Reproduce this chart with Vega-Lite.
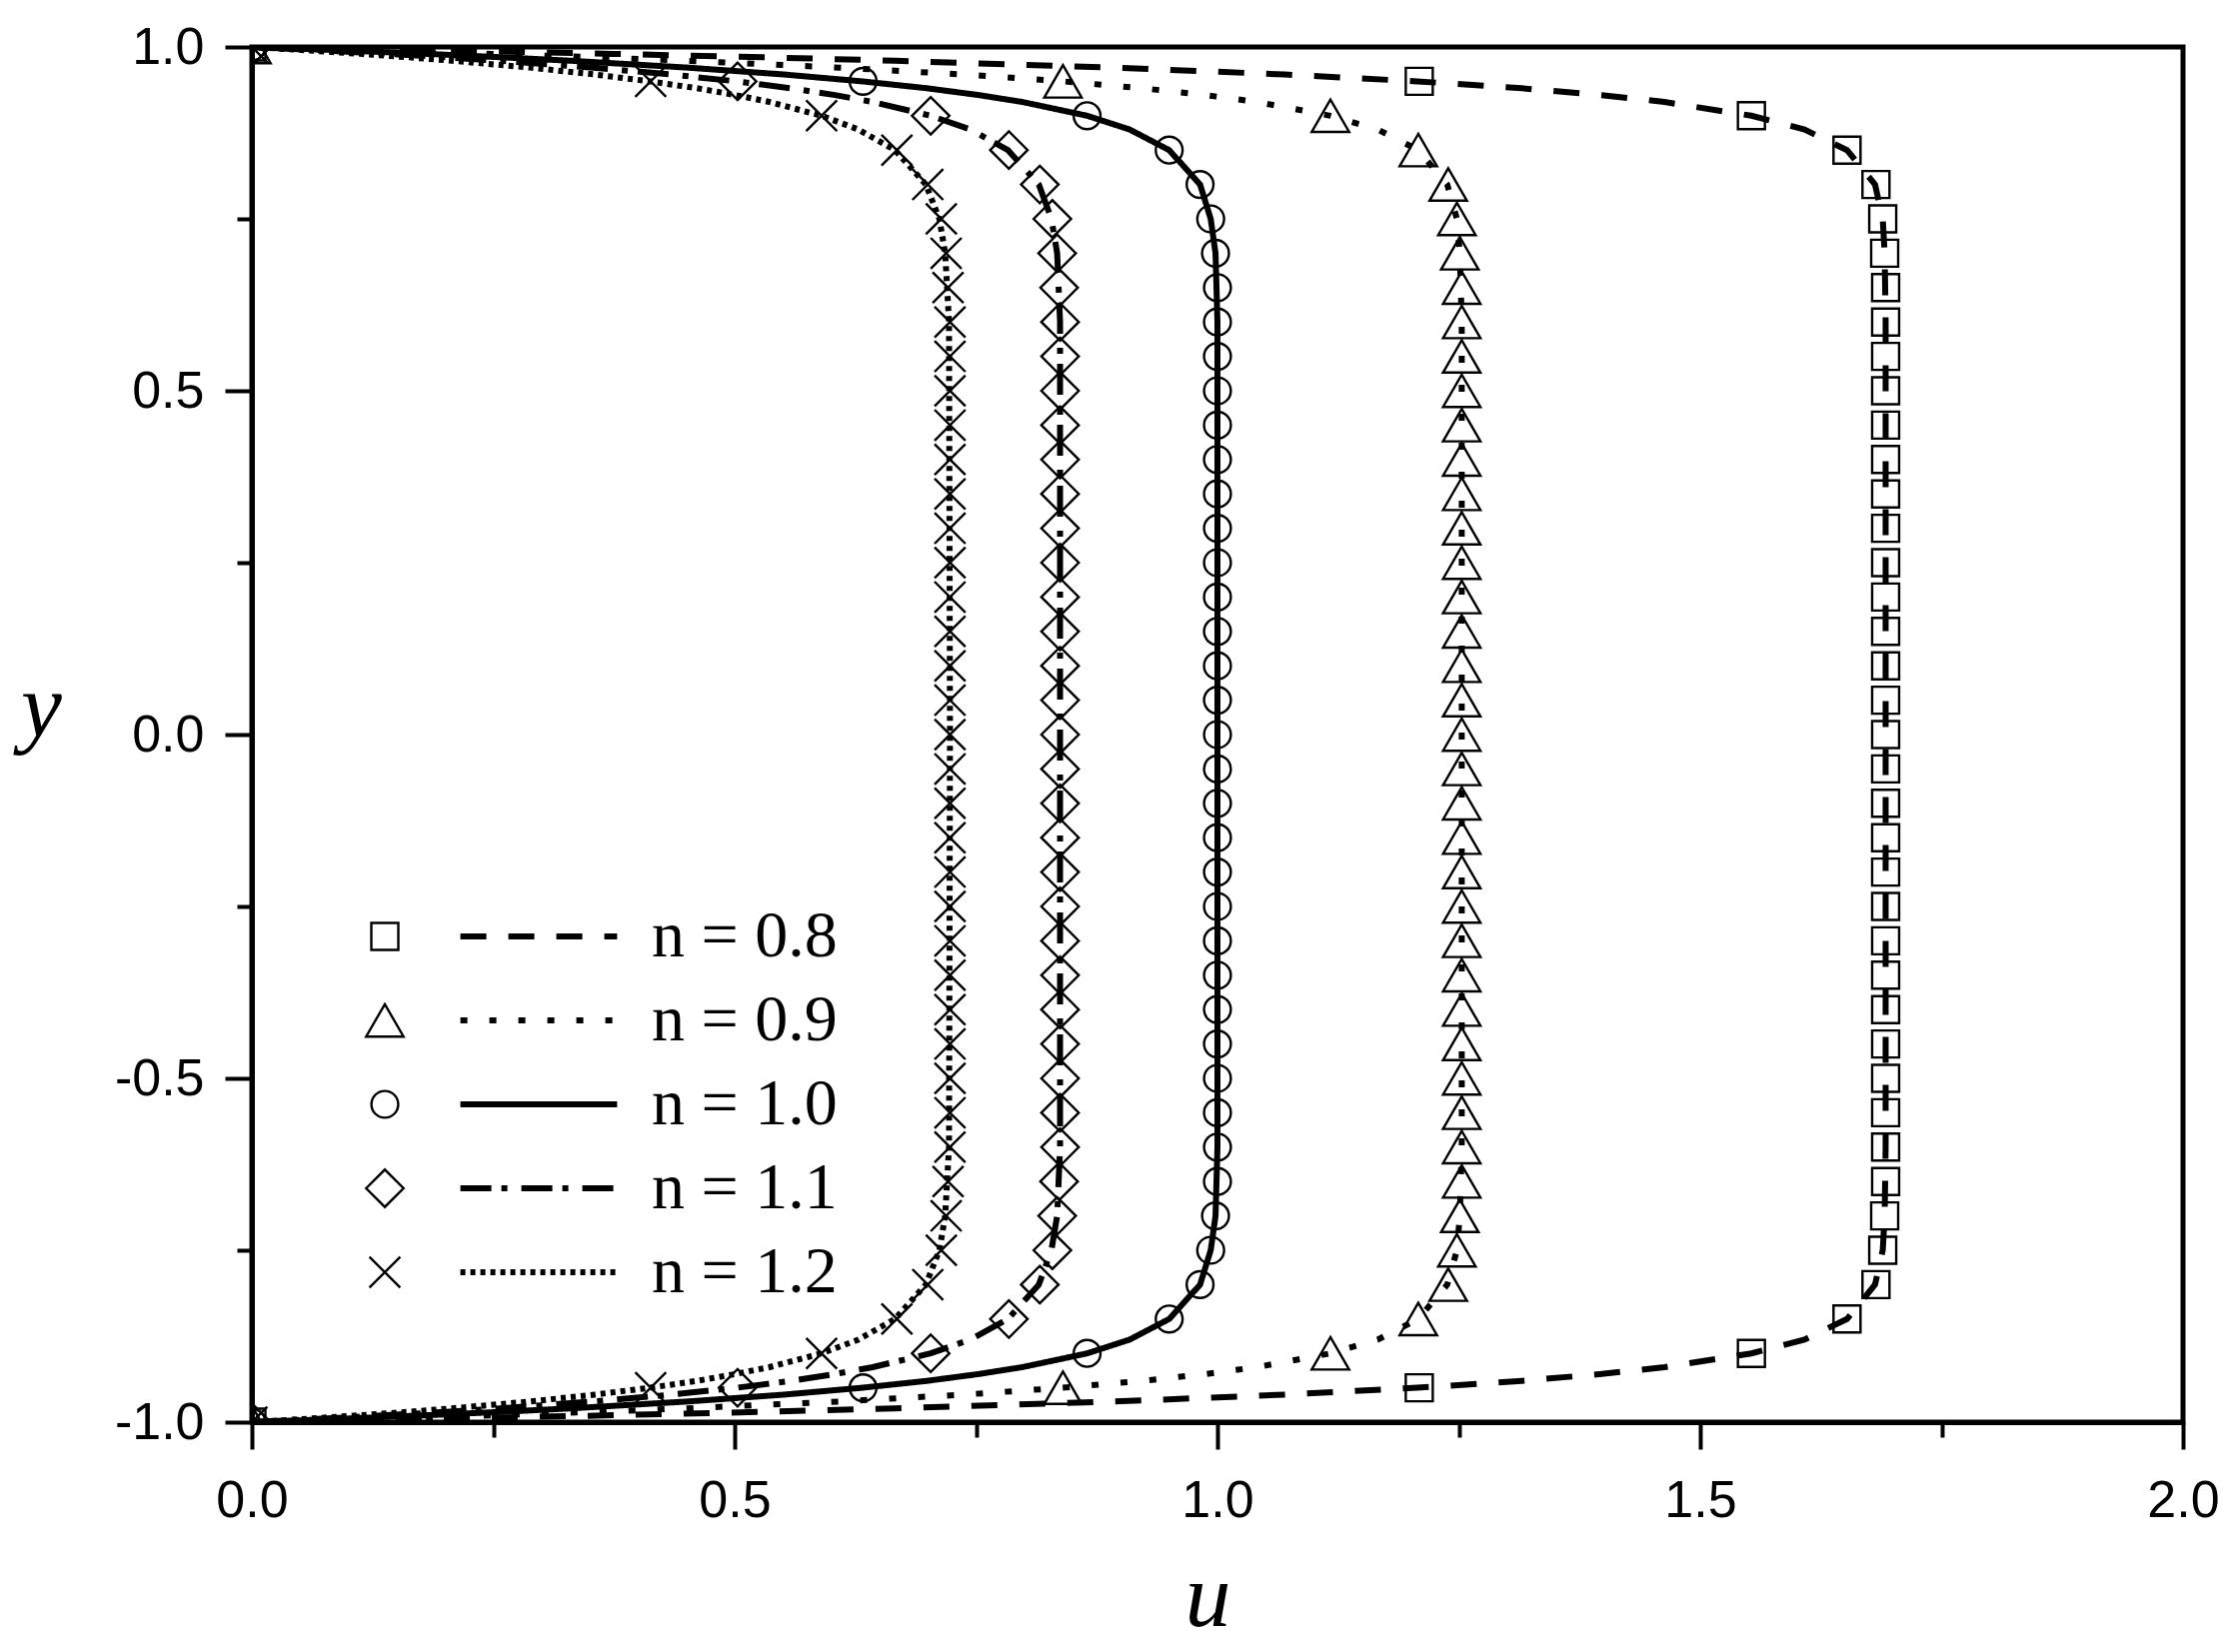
{
  "$schema": "https://vega.github.io/schema/vega-lite/v6.json",
  "width": 1932,
  "height": 1376,
  "autosize": "none",
  "padding": {"left": 252, "top": 47, "right": 57, "bottom": 230},
  "background": "white",
  "config": {
    "view": {"stroke": "black", "strokeWidth": 5},
    "axis": {
      "grid": false,
      "domainColor": "black",
      "domainWidth": 5,
      "tickColor": "black",
      "tickWidth": 4,
      "labelFont": "Liberation Sans",
      "labelFontSize": 52,
      "labelColor": "black",
      "labelFlush": false,
      "labelOverlap": false,
      "labelBound": false,
      "titleFont": "Liberation Serif",
      "titleFontStyle": "italic",
      "titleFontWeight": "normal",
      "titleFontSize": 92,
      "titleColor": "black"
    }
  },
  "datasets": {
    "curves": [
      {"n":"0.8","y":1,"u":0},{"n":"0.8","y":0.995,"u":0.199},{"n":"0.8","y":0.99,"u":0.374},{"n":"0.8","y":0.985,"u":0.529},{"n":"0.8","y":0.98,"u":0.666},{"n":"0.8","y":0.97,"u":0.893},{"n":"0.8","y":0.96,"u":1.070},{"n":"0.8","y":0.95,"u":1.207},{"n":"0.8","y":0.94,"u":1.315},{"n":"0.8","y":0.93,"u":1.398},{"n":"0.8","y":0.92,"u":1.463},{"n":"0.8","y":0.9,"u":1.553},{"n":"0.8","y":0.88,"u":1.608},{"n":"0.8","y":0.85,"u":1.652},{"n":"0.8","y":0.8,"u":1.681},{"n":"0.8","y":0.75,"u":1.689},{"n":"0.8","y":0.7,"u":1.691},{"n":"0.8","y":0.6,"u":1.692},{"n":"0.8","y":0,"u":1.692},{"n":"0.8","y":-0.6,"u":1.692},{"n":"0.8","y":-0.7,"u":1.691},{"n":"0.8","y":-0.75,"u":1.689},{"n":"0.8","y":-0.8,"u":1.681},{"n":"0.8","y":-0.85,"u":1.652},{"n":"0.8","y":-0.88,"u":1.608},{"n":"0.8","y":-0.9,"u":1.553},{"n":"0.8","y":-0.92,"u":1.463},{"n":"0.8","y":-0.93,"u":1.398},{"n":"0.8","y":-0.94,"u":1.315},{"n":"0.8","y":-0.95,"u":1.207},{"n":"0.8","y":-0.96,"u":1.070},{"n":"0.8","y":-0.97,"u":0.893},{"n":"0.8","y":-0.98,"u":0.666},{"n":"0.8","y":-0.985,"u":0.529},{"n":"0.8","y":-0.99,"u":0.374},{"n":"0.8","y":-0.995,"u":0.199},{"n":"0.8","y":-1,"u":0},
      {"n":"0.9","y":1,"u":0},{"n":"0.9","y":0.995,"u":0.132},{"n":"0.9","y":0.99,"u":0.249},{"n":"0.9","y":0.985,"u":0.355},{"n":"0.9","y":0.98,"u":0.449},{"n":"0.9","y":0.97,"u":0.609},{"n":"0.9","y":0.96,"u":0.737},{"n":"0.9","y":0.95,"u":0.840},{"n":"0.9","y":0.94,"u":0.922},{"n":"0.9","y":0.93,"u":0.988},{"n":"0.9","y":0.92,"u":1.041},{"n":"0.9","y":0.9,"u":1.117},{"n":"0.9","y":0.88,"u":1.166},{"n":"0.9","y":0.85,"u":1.208},{"n":"0.9","y":0.8,"u":1.238},{"n":"0.9","y":0.75,"u":1.248},{"n":"0.9","y":0.7,"u":1.251},{"n":"0.9","y":0.6,"u":1.253},{"n":"0.9","y":0,"u":1.253},{"n":"0.9","y":-0.6,"u":1.253},{"n":"0.9","y":-0.7,"u":1.251},{"n":"0.9","y":-0.75,"u":1.248},{"n":"0.9","y":-0.8,"u":1.238},{"n":"0.9","y":-0.85,"u":1.208},{"n":"0.9","y":-0.88,"u":1.166},{"n":"0.9","y":-0.9,"u":1.117},{"n":"0.9","y":-0.92,"u":1.041},{"n":"0.9","y":-0.93,"u":0.988},{"n":"0.9","y":-0.94,"u":0.922},{"n":"0.9","y":-0.95,"u":0.840},{"n":"0.9","y":-0.96,"u":0.737},{"n":"0.9","y":-0.97,"u":0.609},{"n":"0.9","y":-0.98,"u":0.449},{"n":"0.9","y":-0.985,"u":0.355},{"n":"0.9","y":-0.99,"u":0.249},{"n":"0.9","y":-0.995,"u":0.132},{"n":"0.9","y":-1,"u":0},
      {"n":"1.0","y":1,"u":0},{"n":"1.0","y":0.995,"u":0.095},{"n":"1.0","y":0.99,"u":0.181},{"n":"1.0","y":0.985,"u":0.259},{"n":"1.0","y":0.98,"u":0.330},{"n":"1.0","y":0.97,"u":0.451},{"n":"1.0","y":0.96,"u":0.551},{"n":"1.0","y":0.95,"u":0.632},{"n":"1.0","y":0.94,"u":0.699},{"n":"1.0","y":0.93,"u":0.753},{"n":"1.0","y":0.92,"u":0.798},{"n":"1.0","y":0.9,"u":0.865},{"n":"1.0","y":0.88,"u":0.909},{"n":"1.0","y":0.85,"u":0.950},{"n":"1.0","y":0.8,"u":0.982},{"n":"1.0","y":0.75,"u":0.993},{"n":"1.0","y":0.7,"u":0.998},{"n":"1.0","y":0.6,"u":1.0},{"n":"1.0","y":0,"u":1.0},{"n":"1.0","y":-0.6,"u":1.0},{"n":"1.0","y":-0.7,"u":0.998},{"n":"1.0","y":-0.75,"u":0.993},{"n":"1.0","y":-0.8,"u":0.982},{"n":"1.0","y":-0.85,"u":0.950},{"n":"1.0","y":-0.88,"u":0.909},{"n":"1.0","y":-0.9,"u":0.865},{"n":"1.0","y":-0.92,"u":0.798},{"n":"1.0","y":-0.93,"u":0.753},{"n":"1.0","y":-0.94,"u":0.699},{"n":"1.0","y":-0.95,"u":0.632},{"n":"1.0","y":-0.96,"u":0.551},{"n":"1.0","y":-0.97,"u":0.451},{"n":"1.0","y":-0.98,"u":0.330},{"n":"1.0","y":-0.985,"u":0.259},{"n":"1.0","y":-0.99,"u":0.181},{"n":"1.0","y":-0.995,"u":0.095},{"n":"1.0","y":-1,"u":0},
      {"n":"1.1","y":1,"u":0},{"n":"1.1","y":0.995,"u":0.073},{"n":"1.1","y":0.99,"u":0.140},{"n":"1.1","y":0.985,"u":0.201},{"n":"1.1","y":0.98,"u":0.257},{"n":"1.1","y":0.97,"u":0.354},{"n":"1.1","y":0.96,"u":0.434},{"n":"1.1","y":0.95,"u":0.502},{"n":"1.1","y":0.94,"u":0.558},{"n":"1.1","y":0.93,"u":0.604},{"n":"1.1","y":0.92,"u":0.643},{"n":"1.1","y":0.9,"u":0.703},{"n":"1.1","y":0.88,"u":0.744},{"n":"1.1","y":0.85,"u":0.783},{"n":"1.1","y":0.8,"u":0.815},{"n":"1.1","y":0.75,"u":0.828},{"n":"1.1","y":0.7,"u":0.834},{"n":"1.1","y":0.6,"u":0.837},{"n":"1.1","y":0,"u":0.837},{"n":"1.1","y":-0.6,"u":0.837},{"n":"1.1","y":-0.7,"u":0.834},{"n":"1.1","y":-0.75,"u":0.828},{"n":"1.1","y":-0.8,"u":0.815},{"n":"1.1","y":-0.85,"u":0.783},{"n":"1.1","y":-0.88,"u":0.744},{"n":"1.1","y":-0.9,"u":0.703},{"n":"1.1","y":-0.92,"u":0.643},{"n":"1.1","y":-0.93,"u":0.604},{"n":"1.1","y":-0.94,"u":0.558},{"n":"1.1","y":-0.95,"u":0.502},{"n":"1.1","y":-0.96,"u":0.434},{"n":"1.1","y":-0.97,"u":0.354},{"n":"1.1","y":-0.98,"u":0.257},{"n":"1.1","y":-0.985,"u":0.201},{"n":"1.1","y":-0.99,"u":0.140},{"n":"1.1","y":-0.995,"u":0.073},{"n":"1.1","y":-1,"u":0},
      {"n":"1.2","y":1,"u":0},{"n":"1.2","y":0.995,"u":0.059},{"n":"1.2","y":0.99,"u":0.112},{"n":"1.2","y":0.985,"u":0.162},{"n":"1.2","y":0.98,"u":0.207},{"n":"1.2","y":0.97,"u":0.288},{"n":"1.2","y":0.96,"u":0.355},{"n":"1.2","y":0.95,"u":0.412},{"n":"1.2","y":0.94,"u":0.461},{"n":"1.2","y":0.93,"u":0.501},{"n":"1.2","y":0.92,"u":0.536},{"n":"1.2","y":0.9,"u":0.590},{"n":"1.2","y":0.88,"u":0.628},{"n":"1.2","y":0.85,"u":0.666},{"n":"1.2","y":0.8,"u":0.698},{"n":"1.2","y":0.75,"u":0.712},{"n":"1.2","y":0.7,"u":0.718},{"n":"1.2","y":0.6,"u":0.722},{"n":"1.2","y":0,"u":0.723},{"n":"1.2","y":-0.6,"u":0.722},{"n":"1.2","y":-0.7,"u":0.718},{"n":"1.2","y":-0.75,"u":0.712},{"n":"1.2","y":-0.8,"u":0.698},{"n":"1.2","y":-0.85,"u":0.666},{"n":"1.2","y":-0.88,"u":0.628},{"n":"1.2","y":-0.9,"u":0.590},{"n":"1.2","y":-0.92,"u":0.536},{"n":"1.2","y":-0.93,"u":0.501},{"n":"1.2","y":-0.94,"u":0.461},{"n":"1.2","y":-0.95,"u":0.412},{"n":"1.2","y":-0.96,"u":0.355},{"n":"1.2","y":-0.97,"u":0.288},{"n":"1.2","y":-0.98,"u":0.207},{"n":"1.2","y":-0.985,"u":0.162},{"n":"1.2","y":-0.99,"u":0.112},{"n":"1.2","y":-0.995,"u":0.059},{"n":"1.2","y":-1,"u":0}
    ],
    "markers": [
      {"n":"0.8","y":1,"u":0},{"n":"0.8","y":0.95,"u":1.209},{"n":"0.8","y":0.9,"u":1.553},{"n":"0.8","y":0.85,"u":1.652},{"n":"0.8","y":0.8,"u":1.682},{"n":"0.8","y":0.75,"u":1.689},{"n":"0.8","y":0.7,"u":1.691},{"n":"0.8","y":0.65,"u":1.692},{"n":"0.8","y":0.6,"u":1.692},{"n":"0.8","y":0.55,"u":1.692},{"n":"0.8","y":0.5,"u":1.692},{"n":"0.8","y":0.45,"u":1.692},{"n":"0.8","y":0.4,"u":1.692},{"n":"0.8","y":0.35,"u":1.692},{"n":"0.8","y":0.3,"u":1.692},{"n":"0.8","y":0.25,"u":1.692},{"n":"0.8","y":0.2,"u":1.692},{"n":"0.8","y":0.15,"u":1.692},{"n":"0.8","y":0.1,"u":1.692},{"n":"0.8","y":0.05,"u":1.692},{"n":"0.8","y":0,"u":1.692},{"n":"0.8","y":-0.05,"u":1.692},{"n":"0.8","y":-0.1,"u":1.692},{"n":"0.8","y":-0.15,"u":1.692},{"n":"0.8","y":-0.2,"u":1.692},{"n":"0.8","y":-0.25,"u":1.692},{"n":"0.8","y":-0.3,"u":1.692},{"n":"0.8","y":-0.35,"u":1.692},{"n":"0.8","y":-0.4,"u":1.692},{"n":"0.8","y":-0.45,"u":1.692},{"n":"0.8","y":-0.5,"u":1.692},{"n":"0.8","y":-0.55,"u":1.692},{"n":"0.8","y":-0.6,"u":1.692},{"n":"0.8","y":-0.65,"u":1.692},{"n":"0.8","y":-0.7,"u":1.691},{"n":"0.8","y":-0.75,"u":1.689},{"n":"0.8","y":-0.8,"u":1.682},{"n":"0.8","y":-0.85,"u":1.652},{"n":"0.8","y":-0.9,"u":1.553},{"n":"0.8","y":-0.95,"u":1.209},{"n":"0.8","y":-1,"u":0},
      {"n":"0.9","y":1,"u":0},{"n":"0.9","y":0.95,"u":0.840},{"n":"0.9","y":0.9,"u":1.117},{"n":"0.9","y":0.85,"u":1.208},{"n":"0.9","y":0.8,"u":1.239},{"n":"0.9","y":0.75,"u":1.248},{"n":"0.9","y":0.7,"u":1.251},{"n":"0.9","y":0.65,"u":1.253},{"n":"0.9","y":0.6,"u":1.253},{"n":"0.9","y":0.55,"u":1.253},{"n":"0.9","y":0.5,"u":1.253},{"n":"0.9","y":0.45,"u":1.253},{"n":"0.9","y":0.4,"u":1.253},{"n":"0.9","y":0.35,"u":1.253},{"n":"0.9","y":0.3,"u":1.253},{"n":"0.9","y":0.25,"u":1.253},{"n":"0.9","y":0.2,"u":1.253},{"n":"0.9","y":0.15,"u":1.253},{"n":"0.9","y":0.1,"u":1.253},{"n":"0.9","y":0.05,"u":1.253},{"n":"0.9","y":0,"u":1.253},{"n":"0.9","y":-0.05,"u":1.253},{"n":"0.9","y":-0.1,"u":1.253},{"n":"0.9","y":-0.15,"u":1.253},{"n":"0.9","y":-0.2,"u":1.253},{"n":"0.9","y":-0.25,"u":1.253},{"n":"0.9","y":-0.3,"u":1.253},{"n":"0.9","y":-0.35,"u":1.253},{"n":"0.9","y":-0.4,"u":1.253},{"n":"0.9","y":-0.45,"u":1.253},{"n":"0.9","y":-0.5,"u":1.253},{"n":"0.9","y":-0.55,"u":1.253},{"n":"0.9","y":-0.6,"u":1.253},{"n":"0.9","y":-0.65,"u":1.253},{"n":"0.9","y":-0.7,"u":1.251},{"n":"0.9","y":-0.75,"u":1.248},{"n":"0.9","y":-0.8,"u":1.239},{"n":"0.9","y":-0.85,"u":1.208},{"n":"0.9","y":-0.9,"u":1.117},{"n":"0.9","y":-0.95,"u":0.840},{"n":"0.9","y":-1,"u":0},
      {"n":"1.0","y":1,"u":0},{"n":"1.0","y":0.95,"u":0.633},{"n":"1.0","y":0.9,"u":0.865},{"n":"1.0","y":0.85,"u":0.950},{"n":"1.0","y":0.8,"u":0.982},{"n":"1.0","y":0.75,"u":0.993},{"n":"1.0","y":0.7,"u":0.998},{"n":"1.0","y":0.65,"u":1.0},{"n":"1.0","y":0.6,"u":1.0},{"n":"1.0","y":0.55,"u":1.0},{"n":"1.0","y":0.5,"u":1.0},{"n":"1.0","y":0.45,"u":1.0},{"n":"1.0","y":0.4,"u":1.0},{"n":"1.0","y":0.35,"u":1.0},{"n":"1.0","y":0.3,"u":1.0},{"n":"1.0","y":0.25,"u":1.0},{"n":"1.0","y":0.2,"u":1.0},{"n":"1.0","y":0.15,"u":1.0},{"n":"1.0","y":0.1,"u":1.0},{"n":"1.0","y":0.05,"u":1.0},{"n":"1.0","y":0,"u":1.0},{"n":"1.0","y":-0.05,"u":1.0},{"n":"1.0","y":-0.1,"u":1.0},{"n":"1.0","y":-0.15,"u":1.0},{"n":"1.0","y":-0.2,"u":1.0},{"n":"1.0","y":-0.25,"u":1.0},{"n":"1.0","y":-0.3,"u":1.0},{"n":"1.0","y":-0.35,"u":1.0},{"n":"1.0","y":-0.4,"u":1.0},{"n":"1.0","y":-0.45,"u":1.0},{"n":"1.0","y":-0.5,"u":1.0},{"n":"1.0","y":-0.55,"u":1.0},{"n":"1.0","y":-0.6,"u":1.0},{"n":"1.0","y":-0.65,"u":1.0},{"n":"1.0","y":-0.7,"u":0.998},{"n":"1.0","y":-0.75,"u":0.993},{"n":"1.0","y":-0.8,"u":0.982},{"n":"1.0","y":-0.85,"u":0.950},{"n":"1.0","y":-0.9,"u":0.865},{"n":"1.0","y":-0.95,"u":0.633},{"n":"1.0","y":-1,"u":0},
      {"n":"1.1","y":1,"u":0},{"n":"1.1","y":0.95,"u":0.503},{"n":"1.1","y":0.9,"u":0.703},{"n":"1.1","y":0.85,"u":0.784},{"n":"1.1","y":0.8,"u":0.816},{"n":"1.1","y":0.75,"u":0.829},{"n":"1.1","y":0.7,"u":0.834},{"n":"1.1","y":0.65,"u":0.836},{"n":"1.1","y":0.6,"u":0.837},{"n":"1.1","y":0.55,"u":0.837},{"n":"1.1","y":0.5,"u":0.837},{"n":"1.1","y":0.45,"u":0.837},{"n":"1.1","y":0.4,"u":0.837},{"n":"1.1","y":0.35,"u":0.837},{"n":"1.1","y":0.3,"u":0.837},{"n":"1.1","y":0.25,"u":0.837},{"n":"1.1","y":0.2,"u":0.837},{"n":"1.1","y":0.15,"u":0.837},{"n":"1.1","y":0.1,"u":0.837},{"n":"1.1","y":0.05,"u":0.837},{"n":"1.1","y":0,"u":0.837},{"n":"1.1","y":-0.05,"u":0.837},{"n":"1.1","y":-0.1,"u":0.837},{"n":"1.1","y":-0.15,"u":0.837},{"n":"1.1","y":-0.2,"u":0.837},{"n":"1.1","y":-0.25,"u":0.837},{"n":"1.1","y":-0.3,"u":0.837},{"n":"1.1","y":-0.35,"u":0.837},{"n":"1.1","y":-0.4,"u":0.837},{"n":"1.1","y":-0.45,"u":0.837},{"n":"1.1","y":-0.5,"u":0.837},{"n":"1.1","y":-0.55,"u":0.837},{"n":"1.1","y":-0.6,"u":0.837},{"n":"1.1","y":-0.65,"u":0.836},{"n":"1.1","y":-0.7,"u":0.834},{"n":"1.1","y":-0.75,"u":0.829},{"n":"1.1","y":-0.8,"u":0.816},{"n":"1.1","y":-0.85,"u":0.784},{"n":"1.1","y":-0.9,"u":0.703},{"n":"1.1","y":-0.95,"u":0.503},{"n":"1.1","y":-1,"u":0},
      {"n":"1.2","y":1,"u":0},{"n":"1.2","y":0.95,"u":0.413},{"n":"1.2","y":0.9,"u":0.590},{"n":"1.2","y":0.85,"u":0.668},{"n":"1.2","y":0.8,"u":0.700},{"n":"1.2","y":0.75,"u":0.714},{"n":"1.2","y":0.7,"u":0.719},{"n":"1.2","y":0.65,"u":0.721},{"n":"1.2","y":0.6,"u":0.723},{"n":"1.2","y":0.55,"u":0.723},{"n":"1.2","y":0.5,"u":0.723},{"n":"1.2","y":0.45,"u":0.723},{"n":"1.2","y":0.4,"u":0.723},{"n":"1.2","y":0.35,"u":0.723},{"n":"1.2","y":0.3,"u":0.723},{"n":"1.2","y":0.25,"u":0.723},{"n":"1.2","y":0.2,"u":0.723},{"n":"1.2","y":0.15,"u":0.723},{"n":"1.2","y":0.1,"u":0.723},{"n":"1.2","y":0.05,"u":0.723},{"n":"1.2","y":0,"u":0.723},{"n":"1.2","y":-0.05,"u":0.723},{"n":"1.2","y":-0.1,"u":0.723},{"n":"1.2","y":-0.15,"u":0.723},{"n":"1.2","y":-0.2,"u":0.723},{"n":"1.2","y":-0.25,"u":0.723},{"n":"1.2","y":-0.3,"u":0.723},{"n":"1.2","y":-0.35,"u":0.723},{"n":"1.2","y":-0.4,"u":0.723},{"n":"1.2","y":-0.45,"u":0.723},{"n":"1.2","y":-0.5,"u":0.723},{"n":"1.2","y":-0.55,"u":0.723},{"n":"1.2","y":-0.6,"u":0.723},{"n":"1.2","y":-0.65,"u":0.721},{"n":"1.2","y":-0.7,"u":0.719},{"n":"1.2","y":-0.75,"u":0.714},{"n":"1.2","y":-0.8,"u":0.700},{"n":"1.2","y":-0.85,"u":0.668},{"n":"1.2","y":-0.9,"u":0.590},{"n":"1.2","y":-0.95,"u":0.413},{"n":"1.2","y":-1,"u":0}
    ]
  },
  "layer": [
    {
      "data": {"name": "curves"},
      "mark": {"type": "line", "color": "black", "strokeWidth": 6, "clip": true},
      "encoding": {
        "x": {
          "field": "u", "type": "quantitative",
          "scale": {"domain": [0, 2], "nice": false, "zero": false},
          "axis": {
            "title": "u",
            "values": [0, 0.25, 0.5, 0.75, 1, 1.25, 1.5, 1.75, 2],
            "labelExpr": "datum.value % 0.5 === 0 ? format(datum.value, '.1f') : ''",
            "tickSize": {"condition": {"test": "datum.value % 0.5 === 0", "value": 27}, "value": 15},
            "labelPadding": 26,
            "titleX": 956,
            "titleY": 203,
            "titleAlign": "center",
            "titleBaseline": "alphabetic"
          }
        },
        "y": {
          "field": "y", "type": "quantitative",
          "scale": {"domain": [-1, 1], "nice": false, "zero": false},
          "axis": {
            "title": "y",
            "values": [-1, -0.75, -0.5, -0.25, 0, 0.25, 0.5, 0.75, 1],
            "labelExpr": "datum.value % 0.5 === 0 ? replace(format(datum.value, '.1f'), '\u2212', '-') : ''",
            "tickSize": {"condition": {"test": "datum.value % 0.5 === 0", "value": 27}, "value": 15},
            "labelPadding": 21,
            "titleAngle": 0,
            "titleX": -211,
            "titleY": 689,
            "titleAlign": "center",
            "titleBaseline": "alphabetic"
          }
        },
        "order": {"field": "y", "type": "quantitative"},
        "strokeDash": {
          "field": "n", "type": "nominal",
          "scale": {"range": [[26, 22], [7, 22], [1, 0], [31, 10, 6, 14], [5, 5]]},
          "legend": {
            "title": null,
            "orient": "none",
            "legendX": 254,
            "legendY": 857,
            "padding": 0,
            "symbolType": "M-2.8,0H2.8",
            "symbolSize": 3136,
            "symbolStrokeWidth": 6,
            "symbolStrokeColor": "black",
            "labelExpr": "'n = ' + datum.label",
            "labelFont": "Liberation Serif",
            "labelFontSize": 66,
            "labelColor": "black",
            "labelLimit": 0,
            "labelOffset": 80,
            "rowPadding": 18
          }
        }
      }
    },
    {
      "data": {"name": "markers"},
      "mark": {"type": "point", "filled": false, "color": "black", "strokeWidth": 2.4, "clip": true, "opacity": 1},
      "encoding": {
        "x": {"field": "u", "type": "quantitative"},
        "y": {"field": "y", "type": "quantitative"},
        "shape": {
          "field": "n", "type": "nominal",
          "scale": {"range": ["square", "triangle-up", "circle", "diamond", "M-1,-1L1,1M-1,1L1,-1"]},
          "legend": {
            "title": null,
            "orient": "none",
            "legendX": 100,
            "legendY": 857,
            "padding": 0,
            "labelExpr": "''",
            "labelFontSize": 66,
            "symbolStrokeColor": "black",
            "symbolFillColor": "transparent",
            "symbolStrokeWidth": 2.4,
            "rowPadding": 18
          }
        },
        "size": {
          "field": "n", "type": "nominal",
          "scale": {"type": "ordinal", "range": [729, 1400, 720, 1400, 950]},
          "legend": {
            "title": null,
            "orient": "none",
            "legendX": 100,
            "legendY": 857,
            "padding": 0,
            "labelExpr": "''",
            "labelFontSize": 66,
            "symbolStrokeColor": "black",
            "symbolFillColor": "transparent",
            "symbolStrokeWidth": 2.4,
            "rowPadding": 18
          }
        }
      }
    }
  ]
}
